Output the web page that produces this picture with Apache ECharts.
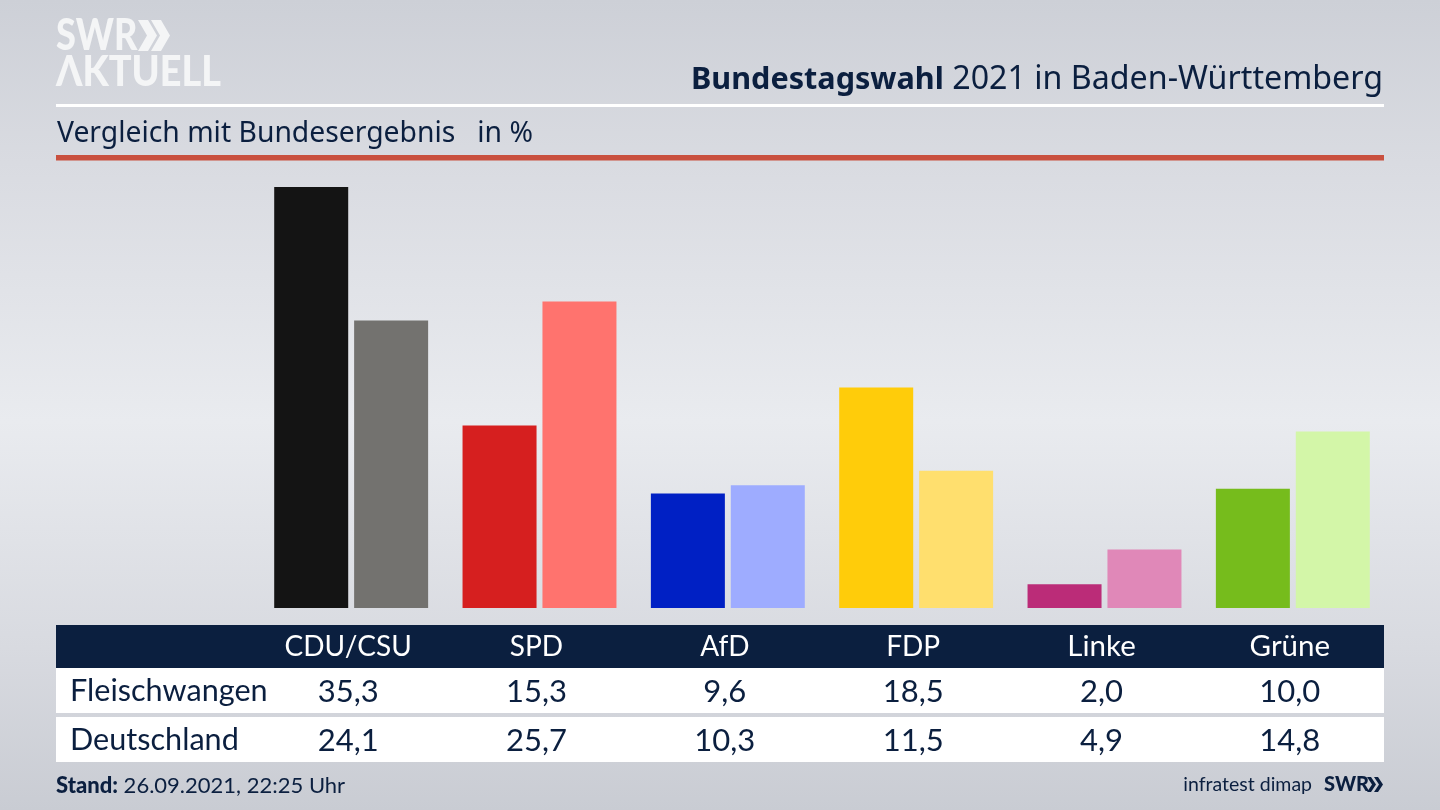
<!DOCTYPE html>
<html><head><meta charset="utf-8">
<style>html,body{margin:0;padding:0;width:1440px;height:810px;overflow:hidden}#c{width:1440px;height:810px}</style>
<script src="https://cdn.jsdelivr.net/npm/echarts@6/dist/echarts.min.js"></script>
</head><body><div id="c"></div>
<script>
const categories = ['CDU/CSU','SPD','AfD','FDP','Linke','Grüne'];
const fleischwangen = [35.3,15.3,9.6,18.5,2.0,10.0];
const deutschland = [24.1,25.7,10.3,11.5,4.9,14.8];
const colorsLocal = ['#141414','#d61f1f','#0020c4','#ffcc0a','#bb2c78','#76bc1c'];
const colorsFederal = ['#73726f','#ff736e','#9eacff','#ffdf6e','#e088b8','#d3f6a8'];
const rowNames = ['Fleischwangen','Deutschland'];
const titleBold = 'Bundestagswahl';
const titleRest = ' 2021 in Baden-Württemberg';
const subtitle = 'Vergleich mit Bundesergebnis   in %';
const standLabel = 'Stand:';
const standText = ' 26.09.2021, 22:25 Uhr';
const source = 'infratest dimap';
const navy = '#0b1f3f';
const logoWhite = '#f4f5f6';
const font = 'Lato, "Noto Sans", sans-serif';
const noto = '"Noto Sans", sans-serif';
const fmt = v => v.toFixed(1).replace('.', ',');

const chart = echarts.init(document.getElementById('c'), null, {renderer:'canvas'});
const base = {
  animation:false,
  backgroundColor:{type:'linear',x:0,y:0,x2:0,y2:1,colorStops:[
    {offset:0,color:'#cdd0d7'},{offset:0.2,color:'#d9dbe1'},{offset:0.52,color:'#e9ebef'},{offset:0.8,color:'#d8dae0'},{offset:1,color:'#c9ccd3'}]},
  grid:{left:257,width:1130,top:131,height:477},
  xAxis:{type:'category',data:categories,show:false},
  yAxis:{type:'value',min:0,max:40,show:false},
  series:[
    {type:'bar',name:rowNames[0],data:fleischwangen.map((v,i)=>({value:v,itemStyle:{color:colorsLocal[i]}})),barWidth:74,barGap:'8%'},
    {type:'bar',name:rowNames[1],data:deutschland.map((v,i)=>({value:v,itemStyle:{color:colorsFederal[i]}})),barWidth:74}
  ]
};
chart.setOption(base);

const rect=(x,y,w,h,fill)=>({type:'rect',shape:{x,y,width:w,height:h},style:{fill},silent:true});
const text=(x,y,t,size,fill,align,extra,fam)=>({type:'text',x,y,silent:true,style:Object.assign({text:t,font:`${size}px ${fam||font}`,fill,align:align||'left',verticalAlign:'middle'},extra||{})});
const chevrons=(x,top,bot,w,thick,step,fill)=>[0,1].map(k=>{
  const x0=x+k*step, m=(top+bot)/2;
  return {type:'polygon',silent:true,shape:{points:[[x0,top],[x0+thick,top],[x0+thick+w,m],[x0+thick,bot],[x0,bot],[x0+w,m]]},style:{fill}};
});
const els=[
  rect(56,104,1328,3,'#ffffff'),
  rect(56,155,1328,5.5,'#c9503f'),
  rect(56,625,1328,43,navy),
  rect(56,668,1328,45,'#ffffff'),
  rect(56,717,1328,45,'#ffffff'),
  text(1383,80,'',32,navy,'right',{
    text:`{b|${titleBold}}{r|${titleRest}}`,
    rich:{b:{font:`bold 30.6px ${noto}`,fill:navy},r:{font:`32.2px ${noto}`,fill:navy}}}),
  text(57,134,subtitle,28.3,navy,'left',null,noto),
  text(70,691,rowNames[0],30.6,navy),
  text(70,740,rowNames[1],30.6,navy),
  text(56,786,'',22,navy,'left',{
    text:`{b|${standLabel}}{r|${standText}}`,
    rich:{b:{font:`900 22px ${font}`,fill:navy},r:{font:`22px ${font}`,fill:navy}}}),
  text(1312,785,source,19.5,navy,'right'),
  {type:'text',x:56,y:36,scaleX:0.84,silent:true,style:{text:'SWR',font:`900 43px ${font}`,fill:logoWhite,align:'left',verticalAlign:'middle'}},
  {type:'text',x:56,y:72,scaleX:0.9,silent:true,style:{text:'ΛKTUELL',font:`900 42px ${font}`,fill:logoWhite,align:'left',verticalAlign:'middle'}},
  ...chevrons(138,20,51,9,10,13,logoWhite),
  {type:'text',x:1324,y:785,silent:true,style:{text:'SWR',font:`900 20px ${font}`,fill:navy,align:'left',verticalAlign:'middle'}},
  ...chevrons(1367,777,792,5,4,7,navy)
];
categories.forEach((c,i)=>{
  const x=chart.convertToPixel({xAxisIndex:0},c)-3;
  els.push(text(x,c.length===5?646.5:647,c,c.length===5?29.5:28,'#ffffff','center'));
  els.push(text(x,691.5,fmt(fleischwangen[i]),31,navy,'center'));
  els.push(text(x,740.5,fmt(deutschland[i]),31,navy,'center'));
});
chart.setOption({graphic:{elements:els}});
</script></body></html>
